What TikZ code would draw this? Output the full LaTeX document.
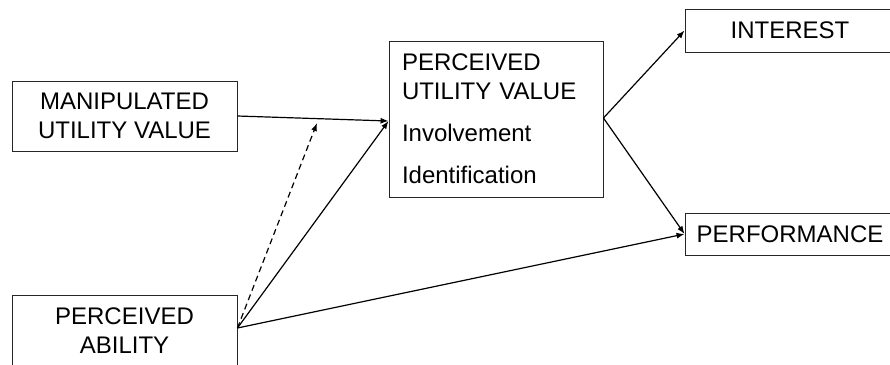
\documentclass[tikz,border=0pt]{standalone}
\usepackage{fontspec}
\setmainfont{Liberation Sans}
\usetikzlibrary{arrows.meta}
\tikzset{
  box/.style={draw=black!85, line width=0.9pt, rectangle, inner sep=0pt,
    font=\fontsize{24}{29}\selectfont, align=center},
  conn/.style={line width=1.2pt, -{Latex[length=8pt,width=6pt]}},
  dconn/.style={conn, dash pattern=on 6pt off 4pt}
}
\begin{document}
\begin{tikzpicture}[x=1pt,y=-1pt]
\useasboundingbox (0,0) rectangle (890,364);
\node[box, minimum width=225pt, minimum height=70pt] (muv) at (124.5,116) {MANIPULATED\\UTILITY VALUE};
\node[box, minimum width=214pt, minimum height=156pt, align=left, text width=188pt, inner xsep=13pt] (puv) at (496,119)
  {PERCEIVED\\UTILITY VALUE\\[12.5pt]Involvement\\[13.5pt]Identification};
\node[box, minimum width=210pt, minimum height=43pt] (int) at (790,30.5) {INTEREST};
\node[box, minimum width=210pt, minimum height=42pt] (perf) at (790,234) {PERFORMANCE};
\node[box, minimum width=225pt, minimum height=71pt] (pa) at (124.5,330.5) {PERCEIVED\\ABILITY};
\coordinate (dashend) at (317,123);
\draw[conn] (muv.east) -- ([yshift=-2pt]puv.west);
\draw[conn] ([yshift=2.5pt]pa.east) -- ([yshift=-2pt]puv.west);
\draw[dconn] ([yshift=2.5pt]pa.east) -- (dashend);
\draw[conn] ([yshift=2.5pt]pa.east) -- (perf.west);
\draw[conn] ([yshift=1pt]puv.east) -- (int.west);
\draw[conn] ([yshift=1pt]puv.east) -- (perf.west);
\end{tikzpicture}
\end{document}
